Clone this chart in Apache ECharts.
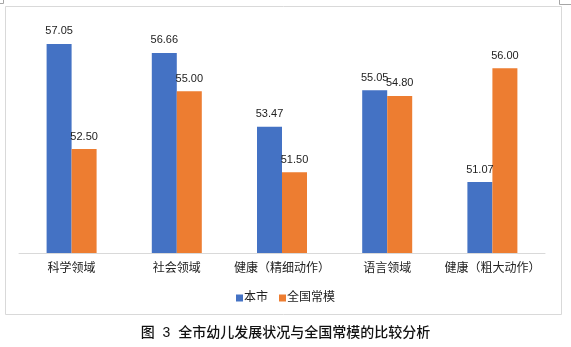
<!DOCTYPE html>
<html><head><meta charset="utf-8">
<script src="https://cdn.jsdelivr.net/npm/echarts@6/dist/echarts.min.js"></script>
<style>html,body{margin:0;padding:0;background:#fff}#c{width:571px;height:347px}</style>
</head><body><div id="c"></div>
<script>
const categories = ['科学领域', '社会领域', '健康（精细动作）', '语言领域', '健康（粗大动作）'];
const cityValues = [57.05, 56.66, 53.47, 55.05, 51.07];
const nationalValues = [52.50, 55.00, 51.50, 54.80, 56.00];
const seriesNames = ['本市', '全国常模'];
const caption = '图  3  全市幼儿发展状况与全国常模的比较分析';

const FONT = "'Liberation Sans', 'Noto Sans CJK SC', sans-serif";
const chart = echarts.init(document.getElementById('c'), null, {renderer: 'canvas'});
const labelCfg = {show: true, position: 'top', distance: 7, color: '#222', fontSize: 11, fontFamily: FONT,
  formatter: p => p.value.toFixed(2)};
chart.setOption({
  animation: false,
  backgroundColor: '#fff',
  textStyle: {fontFamily: FONT},
  grid: {left: 19, right: 26, top: 22, bottom: 94, containLabel: false},
  legend: {
    data: seriesNames, left: 'center', top: 287, icon: 'rect', itemWidth: 7, itemHeight: 7, itemGap: 11,
    textStyle: {fontSize: 12, color: '#222', fontFamily: FONT, padding: [0, 0, 0, -4]}
  },
  xAxis: {
    type: 'category', data: categories,
    axisLine: {lineStyle: {color: '#d9d9d9', width: 1}},
    axisTick: {show: false},
    axisLabel: {fontSize: 12, color: '#222', margin: 10, fontFamily: FONT, interval: 0}
  },
  yAxis: {type: 'value', min: 48, max: 58, show: false, splitLine: {show: false}},
  series: [
    {name: seriesNames[0], type: 'bar', data: cityValues, barWidth: 25, barGap: '0%', itemStyle: {color: '#4472C4'}, label: labelCfg},
    {name: seriesNames[1], type: 'bar', data: nationalValues, barWidth: 25, itemStyle: {color: '#ED7D31'}, label: labelCfg}
  ],
  graphic: [
    {type: 'rect', shape: {x: 5.5, y: 6.5, width: 556, height: 308}, style: {fill: 'none', stroke: '#d9d9d9', lineWidth: 1}, z: -1},
    {type: 'polyline', shape: {points: [[3.5, 0], [3.5, 3.5], [0, 3.5]]}, style: {fill: 'none', stroke: '#a6a6a6', lineWidth: 1}},
    {type: 'polyline', shape: {points: [[559.5, 0], [559.5, 4.5], [571, 4.5]]}, style: {fill: 'none', stroke: '#a6a6a6', lineWidth: 1}},
    {type: 'text', left: 'center', top: 326, style: {text: caption, fontSize: 14, fontWeight: 500, fill: '#111', fontFamily: FONT}}
  ]
});
</script></body></html>
